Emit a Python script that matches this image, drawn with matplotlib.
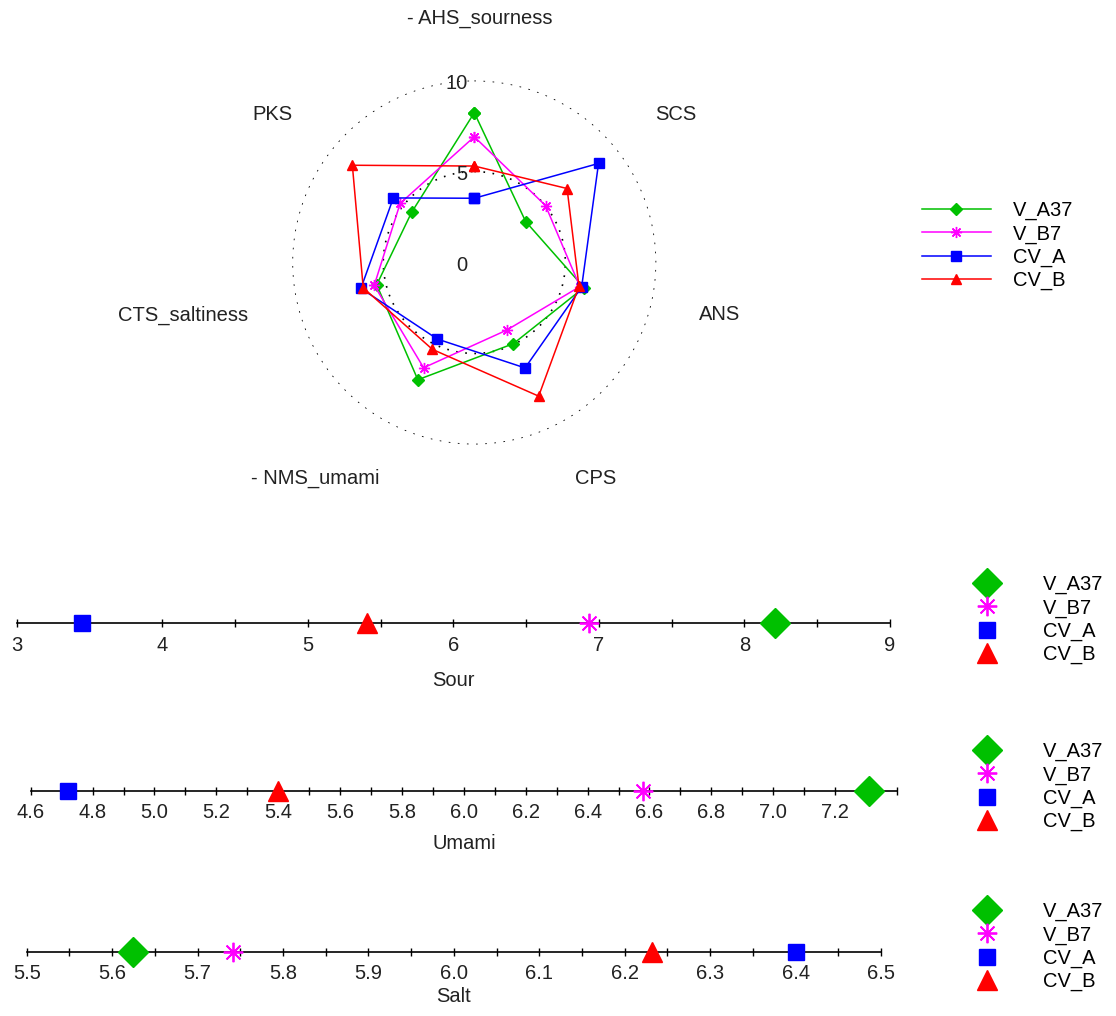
import numpy as np
import matplotlib
matplotlib.use('Agg')
import matplotlib.pyplot as plt

plt.rcParams['font.family'] = ['Liberation Sans', 'DejaVu Sans']

# radar data (7 attributes)
attributes = ['- AHS_sourness', 'SCS', 'ANS', 'CPS', '- NMS_umami', 'CTS_saltiness', 'PKS']
samples = ['V_A37', 'V_B7', 'CV_A', 'CV_B']
radar_V_A37 = [8.23, 3.61, 6.18, 4.95, 7.15, 5.50, 4.41]
radar_V_B7 = [6.91, 5.01, 5.95, 4.12, 6.42, 5.64, 5.21]
radar_CV_A = [3.53, 8.73, 6.05, 6.43, 4.67, 6.39, 5.69]
radar_CV_B = [5.30, 6.52, 5.90, 8.15, 5.30, 6.26, 8.57]

# number line data
sour = [8.21, 6.93, 3.45, 5.41]
umami = [7.31, 6.58, 4.72, 5.40]
salt = [5.625, 5.742, 6.40, 6.232]

colors = ['#00c000', '#ff00ff', '#0000ff', '#ff0000']
markers = ['D', (8, 2, 0), 's', '^']

W, H = 1116, 1016
fig = plt.figure(figsize=(W / 100, H / 100), dpi=100)
FS = 14.5


def px(x0, y0, x1, y1):
    # pixel box -> figure rect
    return [x0 / W, 1 - y1 / H, (x1 - x0) / W, (y1 - y0) / H]


# ---------- radar ----------
cx, cy, R = 474.3, 262.5, 182
ax = fig.add_axes(px(cx - R, cy - R, cx + R, cy + R), projection='polar')
ax.set_theta_zero_location('N')
ax.set_theta_direction(-1)
theta = np.arange(len(attributes)) * 2 * np.pi / len(attributes)
theta_c = np.append(theta, theta[0])

radar = [radar_V_A37, radar_V_B7, radar_CV_A, radar_CV_B]
rsz = [6, 8, 7, 7]
for vals, c, m, name, ms in zip(radar, colors, markers, samples, rsz):
    v = np.append(vals, vals[0])
    ax.plot(theta_c, v, color=c, lw=1.1, marker=m, ms=ms, mec=c, mfc=c,
            label=name, clip_on=False)

ax.set_ylim(0, 10)
ax.set_yticks([5, 10])
ax.set_yticklabels([])
ax.set_xticks([])
ax.yaxis.grid(True, color='black', linestyle=(0, (1, 4.5)), lw=1.2)
ax.xaxis.grid(False)
ax.spines['polar'].set_visible(False)
ax.patch.set_alpha(0)
for r in [10, 5, 0]:
    ax.annotate(str(r), xy=(0, r), xytext=(-5, -2), textcoords='offset points',
                ha='right', va='center', fontsize=FS, color='#222222')

label_pos = [(480, 18), (676, 115), (720, 315), (596, 478), (315, 478), (183, 315), (272, 115)]
for lab, (lx, ly) in zip(attributes, label_pos):
    fig.text(lx / W, 1 - ly / H, lab, ha='center', va='center', fontsize=FS, color='#222222')

fig.legend(*ax.get_legend_handles_labels(), loc='upper left',
           bbox_to_anchor=(921.7 / W, 1 - 201 / H), frameon=False, fontsize=FS,
           handlelength=3.44, handletextpad=1.1, labelspacing=0.2,
           borderpad=0, borderaxespad=0)

# ---------- number lines ----------
lines = [
    ('Sour', sour, (16.7, 890, 623.3), (3, 9), np.arange(3, 9.01, 1), np.arange(3, 9.01, 0.5), '%d', 570, 12),
    ('Umami', umami, (30.7, 897, 791), (4.6, 7.4), np.arange(4.6, 7.21, 0.2), np.arange(4.6, 7.41, 0.1), '%.1f', 737, 8),
    ('Salt', salt, (26.7, 881, 951.7), (5.5, 6.5), np.arange(5.5, 6.51, 0.1), np.arange(5.5, 6.51, 0.05), '%.1f', 897, 3),
]
nsz = [15, 14, 11.5, 14]
for name, vals, (x0, x1, yl), lims, major, minor, fmt, leg_top, lpad in lines:
    a = fig.add_axes(px(x0, yl - 30, x1, yl))
    for v, c, m, s, ms in zip(vals, colors, markers, samples, nsz):
        a.plot([v], [0], linestyle='none', marker=m, ms=ms, color=c, mec=c,
               mew=1.3 if m == (8, 2, 0) else 1, label=s, clip_on=False, zorder=3)
    a.set_xlim(*lims)
    a.set_ylim(0, 1)
    a.set_yticks([])
    for sp in ['top', 'left', 'right']:
        a.spines[sp].set_visible(False)
    a.spines['bottom'].set_linewidth(1.2)
    a.patch.set_alpha(0)
    a.set_xticks(minor, minor=True)
    a.set_xticks(major)
    a.set_xticklabels([fmt % t for t in major])
    a.tick_params(axis='x', which='both', direction='inout', length=6, width=1,
                  labelsize=FS, pad=6, labelcolor='#222222')
    a.set_xlabel(name, fontsize=FS, labelpad=lpad, color='#222222')
    fig.legend(*a.get_legend_handles_labels(), loc='upper left',
               bbox_to_anchor=(966.5 / W, 1 - (leg_top + 5) / H), frameon=False,
               fontsize=FS, handlelength=2.0, handletextpad=1.8, labelspacing=0.2,
               borderpad=0, borderaxespad=0)

fig.savefig('out.png', dpi=100)
